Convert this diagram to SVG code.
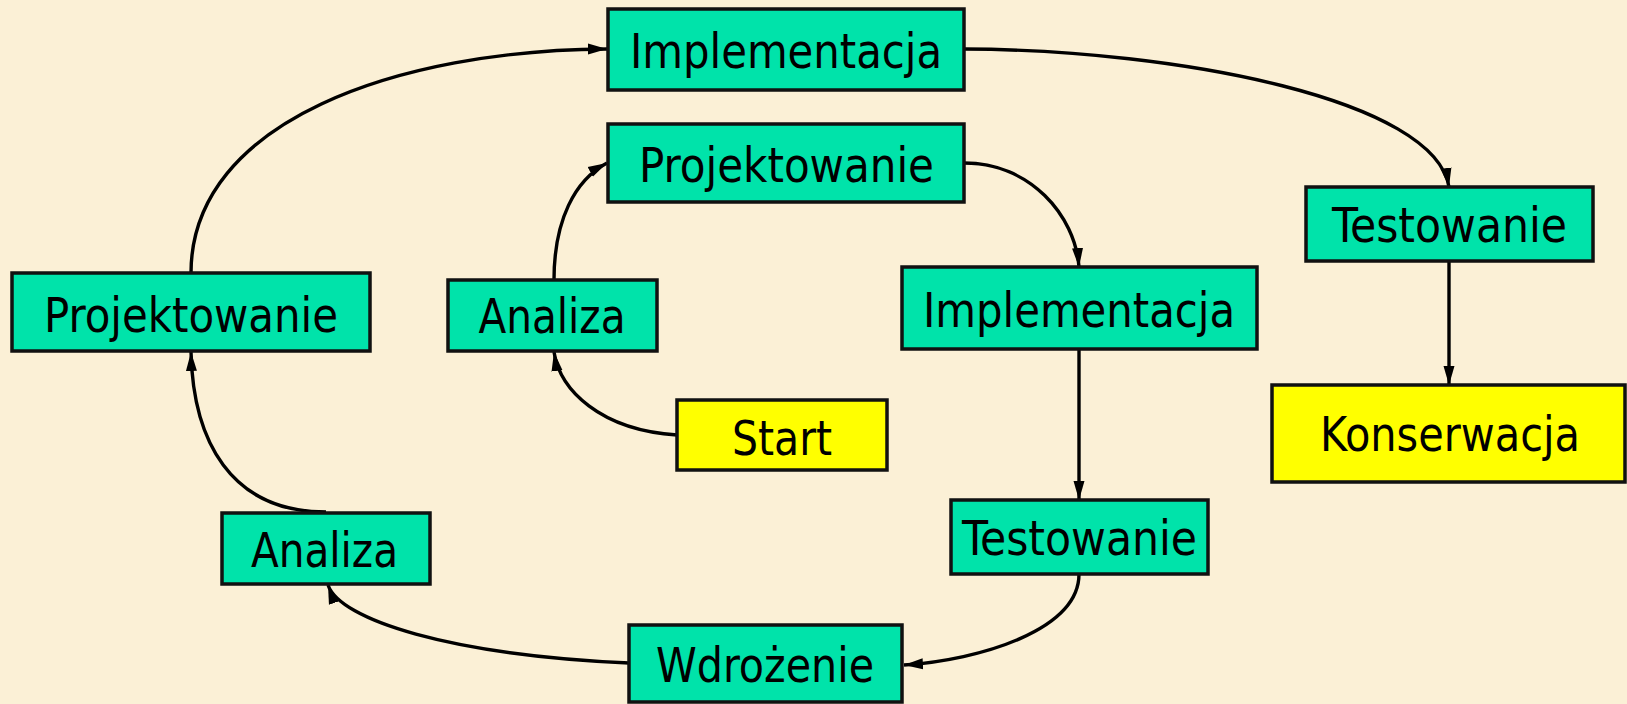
<svg xmlns="http://www.w3.org/2000/svg" width="1627" height="704" viewBox="0 0 1627 704">
  <style>
    .box { stroke: #111; stroke-width: 3.5; }
    .teal { fill: #00E3AA; }
    .yellow { fill: #FFFF00; }
    .lbl { font-family: "DejaVu Sans Condensed", "DejaVu Sans", sans-serif; font-size: 48px; fill: #000; text-anchor: middle; }
    .edge { fill: none; stroke: #000; stroke-width: 3.4; marker-end: url(#arrow); }
  </style>
  <defs>
    <marker id="arrow" markerUnits="userSpaceOnUse" markerWidth="20" markerHeight="14" viewBox="0 0 20 14" refX="19" refY="7" orient="auto">
      <path d="M0,1.5 L19,7 L0,12.5 Z" fill="#000"/>
    </marker>
  </defs>

  <rect width="1627" height="704" fill="#FBF0D6"/>

  <!-- connectors -->
  <g id="connectors">
    <path class="edge" d="M191,273 C191,120 400,50 607,49"/>
    <path class="edge" d="M964,49 C1180,50 1435,100 1449,187"/>
    <path class="edge" d="M554,280 C554,220 575,180 607,163"/>
    <path class="edge" d="M964,163 C1030,163 1075,215 1079,267"/>
    <path class="edge" d="M1449,261 L1449,385"/>
    <path class="edge" d="M1079,349 L1079,500"/>
    <path class="edge" d="M1079,574 C1079,630 980,660 904,665"/>
    <path class="edge" d="M629,663 C450,655 340,620 328,585"/>
    <path class="edge" d="M677,435 C600,430 560,390 554,352"/>
    <path class="edge" d="M326,512 C230,512 193,440 191,352"/>
  </g>

  <!-- nodes -->
  <g id="implementacja-1">
    <rect class="box teal" x="608" y="9" width="356" height="81"/>
    <text class="lbl" x="786" y="68" textLength="312" lengthAdjust="spacingAndGlyphs">Implementacja</text>
  </g>
  <g id="projektowanie-1">
    <rect class="box teal" x="608" y="124" width="356" height="78"/>
    <text class="lbl" x="786.5" y="182" textLength="295" lengthAdjust="spacingAndGlyphs">Projektowanie</text>
  </g>
  <g id="testowanie-2">
    <rect class="box teal" x="1306" y="187" width="287" height="74"/>
    <text class="lbl" x="1449.5" y="242" textLength="235" lengthAdjust="spacingAndGlyphs">Testowanie</text>
  </g>
  <g id="implementacja-2">
    <rect class="box teal" x="902" y="267" width="355" height="82"/>
    <text class="lbl" x="1079" y="327" textLength="312" lengthAdjust="spacingAndGlyphs">Implementacja</text>
  </g>
  <g id="konserwacja">
    <rect class="box yellow" x="1272" y="385" width="353" height="97"/>
    <text class="lbl" x="1450" y="451" textLength="260" lengthAdjust="spacingAndGlyphs">Konserwacja</text>
  </g>
  <g id="testowanie-1">
    <rect class="box teal" x="951" y="500" width="257" height="74"/>
    <text class="lbl" x="1079.5" y="555" textLength="235" lengthAdjust="spacingAndGlyphs">Testowanie</text>
  </g>
  <g id="start">
    <rect class="box yellow" x="677" y="400" width="210" height="70"/>
    <text class="lbl" x="782" y="455" textLength="100" lengthAdjust="spacingAndGlyphs">Start</text>
  </g>
  <g id="analiza-2">
    <rect class="box teal" x="222" y="513" width="208" height="71"/>
    <text class="lbl" x="324.5" y="567" textLength="147" lengthAdjust="spacingAndGlyphs">Analiza</text>
  </g>
  <g id="wdrozenie">
    <rect class="box teal" x="629" y="625" width="273" height="77"/>
    <text class="lbl" x="765" y="682" textLength="218" lengthAdjust="spacingAndGlyphs">Wdrożenie</text>
  </g>
  <g id="projektowanie-2">
    <rect class="box teal" x="12" y="273" width="358" height="78"/>
    <text class="lbl" x="191" y="332" textLength="294" lengthAdjust="spacingAndGlyphs">Projektowanie</text>
  </g>
  <g id="analiza-1">
    <rect class="box teal" x="448" y="280" width="209" height="71"/>
    <text class="lbl" x="552" y="333" textLength="147" lengthAdjust="spacingAndGlyphs">Analiza</text>
  </g>
</svg>
